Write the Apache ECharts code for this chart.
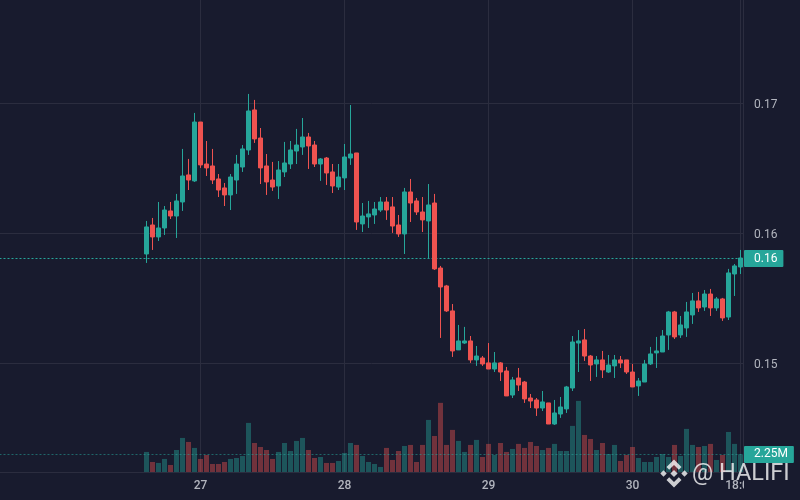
<!DOCTYPE html>
<html>
<head>
<meta charset="utf-8">
<style>html,body{margin:0;padding:0;background:#181b2e}#c{width:800px;height:500px}</style>
<script src="https://cdn.jsdelivr.net/npm/echarts@6/dist/echarts.min.js"></script>
</head>
<body>
<div id="c"></div>
<script>
const opens = [.15841,.16064,.15972,.16041,.16172,.16133,.16241,.16449,.16403,.16856,
.16533,.16518,.16418,.16349,.16295,.16410,.16510,.16641,.16949,.16733,
.16518,.16410,.16364,.16472,.16533,.16633,.16664,.16741,.16679,.16533,
.16579,.16472,.16356,.16426,.16579,.16618,.16072,.16126,.16141,.16179,
.16241,.16203,.16064,.15995,.16318,.16249,.16164,.16095,.16233,.15733,
.15595,.15403,.15103,.15156,.15172,.15026,.15041,.15003,.14956,.15003,
.14941,.14756,.14887,.14856,.14733,.14718,.14656,.14695,.14533,.14610,
.14649,.14810,.15156,.15180,.15056,.14995,.15026,.14933,.14980,.15026,
.15026,.14933,.14826,.14856,.14995,.15080,.15087,.15218,.15395,.15218,
.15272,.15372,.15480,.15433,.15533,.15426,.15495,.15356,.15687,.15741];
const closes = [.16049,.15972,.16041,.16179,.16133,.16249,.16441,.16410,.16856,.16526,
.16503,.16410,.16333,.16295,.16433,.16533,.16649,.16941,.16726,.16503,
.16395,.16356,.16487,.16541,.16641,.16679,.16741,.16672,.16533,.16572,
.16464,.16364,.16433,.16587,.16610,.16087,.16133,.16149,.16187,.16241,
.16179,.16056,.15995,.16318,.16233,.16164,.16103,.16218,.15726,.15587,
.15403,.15095,.15172,.15172,.15026,.15056,.14995,.14956,.15003,.14933,
.14749,.14872,.14833,.14726,.14710,.14656,.14703,.14533,.14618,.14664,
.14818,.15164,.15172,.15056,.14987,.15026,.14949,.14987,.15026,.15003,
.14933,.14818,.14864,.14995,.15072,.15095,.15210,.15395,.15203,.15295,
.15395,.15480,.15426,.15533,.15426,.15495,.15349,.15695,.15749,.15810];
const lows = [.15772,.15872,.15941,.15987,.16110,.15964,.16172,.16333,.16395,.16503,
.16441,.16379,.16279,.16210,.16179,.16303,.16472,.16603,.16695,.16379,
.16295,.16326,.16264,.16433,.16495,.16533,.16603,.16495,.16510,.16403,
.16372,.16310,.16333,.16333,.16526,.16026,.16010,.16041,.16072,.16164,
.16103,.16003,.15972,.15841,.16087,.16141,.16010,.15803,.15718,.15195,
.15395,.15049,.15103,.15149,.15003,.14980,.14980,.14956,.14933,.14864,
.14749,.14733,.14787,.14695,.14656,.14595,.14633,.14533,.14526,.14580,
.14618,.14787,.14933,.15018,.14864,.14895,.14887,.14926,.14887,.14964,
.14918,.14818,.14749,.14856,.14987,.14964,.15087,.15103,.15187,.15195,
.15203,.15303,.15395,.15403,.15364,.15403,.15326,.15333,.15518,.15687];
const highs = [.16095,.16118,.16241,.16210,.16241,.16303,.16649,.16572,.16926,.16856,
.16710,.16649,.16456,.16387,.16456,.16603,.16679,.17072,.17026,.16810,
.16610,.16549,.16556,.16703,.16710,.16803,.16887,.16772,.16710,.16579,
.16587,.16533,.16533,.16687,.16987,.16618,.16233,.16249,.16241,.16279,
.16279,.16279,.16141,.16349,.16418,.16272,.16279,.16379,.16303,.15749,
.15603,.15456,.15295,.15280,.15210,.15133,.15056,.15156,.15087,.15010,
.14972,.14895,.14964,.14864,.14764,.14733,.14787,.14695,.14718,.14741,
.14826,.15210,.15256,.15264,.15064,.15056,.15095,.15064,.15064,.15056,
.15026,.14995,.14887,.15026,.15126,.15203,.15256,.15403,.15403,.15364,
.15472,.15541,.15549,.15564,.15572,.15510,.15503,.15726,.15764,.15872];
const volumes = [2.55,1.27,1.15,1.66,.89,2.80,4.33,3.82,3.06,1.66,
2.16,1.02,1.02,1.27,1.66,1.78,2.04,6.24,3.69,3.18,
2.80,1.66,2.55,3.69,2.67,3.95,4.33,2.80,1.78,1.91,
1.15,1.15,1.40,2.42,3.69,3.44,2.04,1.27,1.02,.64,
3.06,1.53,2.67,3.31,3.44,1.27,3.44,6.62,4.58,8.79,
3.44,5.35,3.95,2.55,3.44,4.08,1.91,3.57,2.16,3.69,
2.55,2.93,3.57,3.06,3.82,3.31,2.80,3.06,3.57,2.67,
2.67,5.86,9.04,4.71,4.20,2.80,3.69,2.29,3.44,1.40,
2.16,3.18,1.78,1.27,1.27,1.91,2.29,1.91,3.44,2.04,
5.48,3.44,3.18,3.31,3.57,1.53,2.16,5.09,3.57,2.25];
const leadingEmptySlots = 24;
const timeTicks = {9:'27',33:'28',57:'29',81:'30',99:'18:00'};
const lastPrice = 0.15806, lastPriceLabel = '0.16';
const lastVolume = 2.225, lastVolumeLabel = '2.25M';

const UP='#26a69a', DOWN='#ef5350', BG='#181b2e', GRID='#2b2d3f', TXT='#b2b5be';
const font='Roboto';
const blanks = Array(leadingEmptySlots).fill(null);
const categories = blanks.map((_,i)=>'b'+i).concat(opens.map((_,i)=>timeTicks[i]||('t'+i)));
const candleData = blanks.map(()=>['-','-','-','-']).concat(opens.map((o,i)=>[o,closes[i],lows[i],highs[i]]));
const volumeData = blanks.map(()=>'-').concat(volumes.map((v,i)=>({value:v,itemStyle:{color:closes[i]>=opens[i]?'rgba(38,166,154,0.42)':'rgba(239,83,80,0.42)'}})));
const isTick=(idx,val)=>Object.values(timeTicks).includes(val);

const chart = echarts.init(document.getElementById('c'),null,{renderer:'canvas'});
const tag=(txt)=>({show:true,position:'end',distance:0.5,formatter:txt,color:'#fff',backgroundColor:UP,
  fontFamily:font,fontSize:12,height:15,lineHeight:15,padding:[2,6,0,10],borderRadius:1});
function diamond(cx,cy,r){return [[cx,cy-r],[cx+r,cy],[cx,cy+r],[cx-r,cy]];}
const wm='rgba(255,255,255,0.78)';
const lx=674, ly=473.5;
chart.setOption({
  animation:false,
  backgroundColor:BG,
  grid:[
    {left:-0.5,width:744,top:-26.7,height:520,containLabel:false,outerBoundsMode:'none'},
    {left:-0.5,width:744,top:0,height:472,containLabel:false,outerBoundsMode:'none'}
  ],
  xAxis:[
    {type:'category',gridIndex:0,data:categories,show:false,boundaryGap:true},
    {type:'category',gridIndex:1,data:categories,boundaryGap:true,
     axisLine:{show:true,lineStyle:{color:GRID,width:1}},
     axisTick:{show:false,alignWithLabel:true},
     axisLabel:{interval:isTick,color:TXT,fontFamily:font,fontSize:12,fontWeight:500,margin:8,hideOverlap:false},
     splitLine:{show:true,interval:isTick,alignWithLabel:true,lineStyle:{color:GRID,width:1}}}
  ],
  yAxis:[
    {type:'value',gridIndex:0,position:'right',min:0.14,max:0.18,interval:0.01,
     axisLine:{show:false},axisTick:{show:false},
     axisLabel:{color:TXT,fontFamily:font,fontSize:12,margin:10.5,showMinLabel:false,showMaxLabel:false,
       formatter:v=>'{p|'+v.toFixed(2)+'}',
       rich:{p:{color:TXT,fontFamily:font,fontSize:12,lineHeight:14,padding:[4,0,0,0]}}},
     splitLine:{show:true,showMinLine:false,showMaxLine:false,lineStyle:{color:GRID,width:1}}},
    {type:'value',gridIndex:1,position:'right',min:0,max:60,interval:60,
     axisLine:{show:true,onZero:false,lineStyle:{color:GRID,width:1}},axisTick:{show:false},
     axisLabel:{show:false},splitLine:{show:false}}
  ],
  series:[
    {type:'bar',xAxisIndex:1,yAxisIndex:1,data:volumeData,barWidth:5,z:2,silent:true,
     markLine:{silent:true,symbol:'none',animation:false,precision:5,
       lineStyle:{color:'rgba(38,166,154,0.55)',type:[2,2],width:1},
       label:tag(lastVolumeLabel),
       data:[{yAxis:lastVolume}]}},
    {type:'candlestick',xAxisIndex:0,yAxisIndex:0,data:candleData,barWidth:4,z:3,silent:true,clip:false,
     itemStyle:{color:UP,color0:DOWN,borderColor:UP,borderColor0:DOWN,borderWidth:1},
     markLine:{silent:true,symbol:'none',animation:false,precision:5,z:1,
       lineStyle:{color:UP,type:[2,2],width:1},
       label:tag(lastPriceLabel),
       data:[{yAxis:lastPrice}]}}
  ],
  graphic:[
    {type:'rect',z:50,silent:true,shape:{x:744,y:473,width:56,height:27},style:{fill:BG}},
    {type:'polygon',z:60,silent:true,shape:{points:diamond(lx,ly,3.6)},style:{fill:wm}},
    {type:'polygon',z:60,silent:true,shape:{points:diamond(lx-10.5,ly,3.2)},style:{fill:wm}},
    {type:'polygon',z:60,silent:true,shape:{points:diamond(lx+10.5,ly,3.2)},style:{fill:wm}},
    {type:'polygon',z:60,silent:true,shape:{points:[[lx,ly-14],[lx+7.5,ly-6.5],[lx+4.8,ly-3.8],[lx,ly-8.6],[lx-4.8,ly-3.8],[lx-7.5,ly-6.5]]},style:{fill:wm}},
    {type:'polygon',z:60,silent:true,shape:{points:[[lx,ly+14],[lx+7.5,ly+6.5],[lx+4.8,ly+3.8],[lx,ly+8.6],[lx-4.8,ly+3.8],[lx-7.5,ly+6.5]]},style:{fill:wm}},
    {type:'text',z:60,silent:true,x:692,y:474,style:{text:'@ HALIFI',fill:wm,font:'400 23.5px Roboto',textVerticalAlign:'middle'}}
  ]
});
</script>
</body>
</html>
